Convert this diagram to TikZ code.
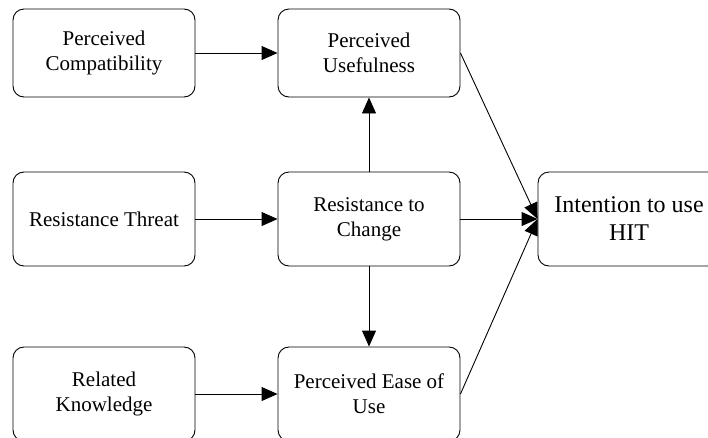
\documentclass[tikz,border=0pt]{standalone}
\usepackage{fontspec}
\setmainfont{Liberation Serif}
\usetikzlibrary{arrows.meta, positioning}

\begin{document}
\begin{tikzpicture}[x=1pt, y=-1pt,
    construct/.style={draw, rounded corners=11pt, line width=0.9pt, minimum width=182pt, minimum height=94pt, inner sep=0pt, align=center, font=\fontsize{21}{25}\selectfont},
    link/.style={-{Triangle[length=16pt, width=14pt]}, line width=0.9pt}]
    \useasboundingbox (0,0) rectangle (708,437);
    \clip (0,0) rectangle (708,437);

    % Left column
    \node[construct, minimum height=88pt] (pc) at (104,53) {Perceived\\Compatibility};
    \node[construct] (rt) at (104,219) {Resistance Threat};
    \node[construct] (rk) at (104,394) {Related\\Knowledge};

    % Middle column
    \node[construct, minimum height=88pt] (pu) at (369,53) {Perceived\\Usefulness};
    \node[construct] (rc) at (369,219) {Resistance to\\Change};
    \node[construct] (peu) at (369,394) {Perceived Ease of\\Use};

    % Outcome
    \node[construct, font=\fontsize{24}{28}\selectfont] (iu) at (629,219) {Intention to use\\HIT};

    % Paths
    \draw[link] (pc) -- (pu);
    \draw[link] (rt) -- (rc);
    \draw[link] (rk) -- (peu);
    \draw[link] (rc) -- (pu);
    \draw[link] (rc) -- (peu);
    \draw[link] (pu.east) -- (iu.west);
    \draw[link] (rc) -- (iu);
    \draw[link] (peu.east) -- (iu.west);
\end{tikzpicture}
\end{document}
